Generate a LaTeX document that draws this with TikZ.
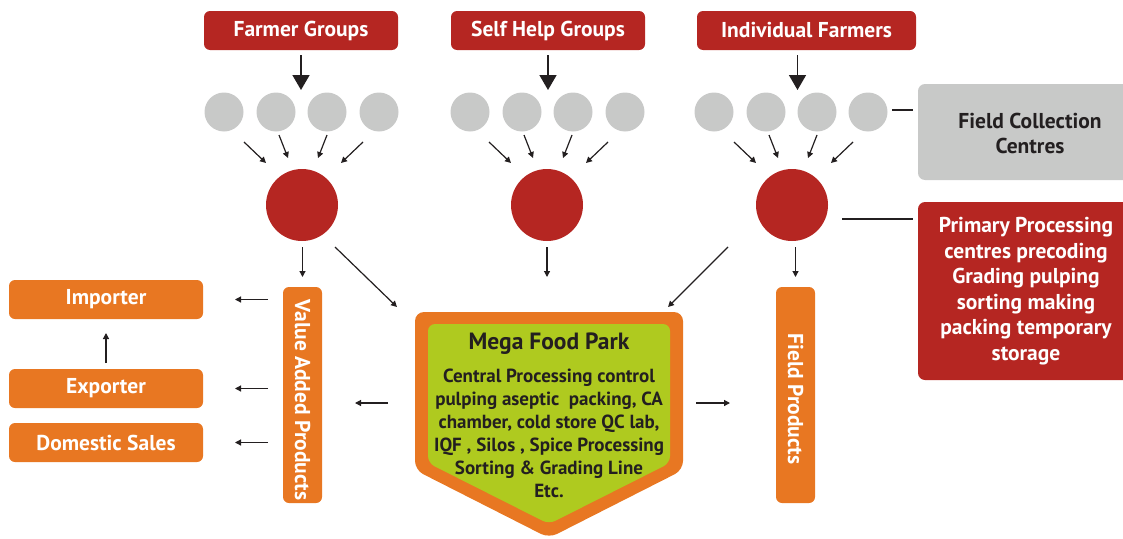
\documentclass[tikz,border=0pt]{standalone}
\usepackage{fontspec}
\setmainfont{PT Sans}
\usetikzlibrary{arrows.meta,calc}
\definecolor{cred}{HTML}{B52622}
\definecolor{corange}{HTML}{E87722}
\definecolor{cgray}{HTML}{C8C9C8}
\definecolor{cgreen}{HTML}{AFCA1F}
\definecolor{cdark}{HTML}{231F20}
\begin{document}
\begin{tikzpicture}[x=1pt,y=-1pt,
  every node/.style={inner sep=0pt, outer sep=0pt},
  boxfont/.style={font=\bfseries\fontsize{21.5}{24}\selectfont},
  redbox/.style={fill=cred, rounded corners=6pt, text=white, boxfont},
  orbox/.style={fill=corange, rounded corners=6pt, text=white, boxfont},
  gdot/.style={circle, fill=cgray, minimum size=39pt},
  rdot/.style={circle, fill=cred, minimum size=72pt},
  bigarr/.style={draw=cdark, line width=1.6pt, -{Triangle[length=15pt,width=17pt]}},
  arr/.style={draw=cdark, line width=1.2pt, -{Triangle[length=6pt,width=6pt]}},
  plainline/.style={draw=cdark, line width=1.1pt},
]
\useasboundingbox (0,0) rectangle (1123,538);

% top source boxes
\node[redbox, minimum width=194pt, minimum height=39pt] (fg) at (301,30.5) {Farmer Groups};
\node[redbox, minimum width=194pt, minimum height=39pt] (shg) at (548,30.5) {Self Help Groups};
\node[redbox, minimum width=219pt, minimum height=39pt] (ifa) at (806.5,30.5) {Individual Farmers};

% gray collection dots
\foreach \i/\x in {1/224,2/276,3/327,4/379} \node[gdot] (a\i) at (\x,112) {};
\foreach \i/\x in {1/470,2/522,3/573,4/625} \node[gdot] (b\i) at (\x,112) {};
\foreach \i/\x in {1/714,2/766,3/817,4/868} \node[gdot] (c\i) at (\x,112) {};

% red processing dots
\node[rdot] (r1) at (302,205) {};
\node[rdot] (r2) at (547,205) {};
\node[rdot] (r3) at (792,205) {};

% big arrows from source boxes
\draw[bigarr, shorten <=5pt, shorten >=2.5pt] (fg.south) -- (fg.south |- a2.north);
\draw[bigarr, shorten <=5pt, shorten >=2.5pt] (shg.south) -- (shg.south |- b2.north);
\draw[bigarr, shorten <=5pt, shorten >=2.5pt] (c3.west |- ifa.south) -- (c3.west |- c3.north);

% small arrows dots -> red circles
\foreach \r in {r1,r2,r3}{
  \draw[arr] ($(\r)+(-58,-63)$) -- ($(\r)+(-36,-42)$);
  \draw[arr] ($(\r)+(-23,-70)$) -- ($(\r)+(-14,-47)$);
  \draw[arr] ($(\r)+(25,-70)$) -- ($(\r)+(16,-47)$);
  \draw[arr] ($(\r)+(61,-63)$) -- ($(\r)+(39,-42)$);
}

% vertical product boxes
\node[orbox, minimum width=39pt, minimum height=216pt] (vap) at (302.5,395) {};
\node[rotate=-90, text=white, boxfont] (vaptext) at (302.5,400) {Value Added Products};
\node[orbox, minimum width=39pt, minimum height=216pt] (fp) at (795.5,395) {};
\node[rotate=-90, text=white, boxfont] (fptext) at (795.5,399) {Field Products};

% market boxes
\node[orbox, minimum width=194pt, minimum height=39pt] (imp) at (106,299.5) {Importer};
\node[orbox, minimum width=194pt, minimum height=39pt] (exp) at (106,388.5) {Exporter};
\node[orbox, minimum width=194pt, minimum height=39pt] (dom) at (106,442.5) {Domestic Sales};

% mega food park shape
\fill[corange, rounded corners=9pt] (549,312) -- (683,312) -- (683,470) -- (549,538) -- (415,470) -- (415,312) -- cycle;
\fill[cgreen, rounded corners=7pt] (549,324) -- (670,324) -- (670,463) -- (549,524) -- (428,463) -- (428,324) -- cycle;
\node[minimum width=268pt, minimum height=158pt] (mfp) at (549,391) {};
\node[text=cdark, font=\bfseries\fontsize{23.5}{26}\selectfont] (mfptitle) at (549,344) {Mega Food Park};
\node[text=cdark, align=center, font=\bfseries\fontsize{19}{23}\selectfont] (mfpbody) at (549,433)
  {Central Processing control\\ pulping aseptic\ \ packing, CA\\ chamber, cold store QC lab,\\ IQF , Silos , Spice Processing\\ Sorting \& Grading Line\\ Etc.};

% right side boxes
\fill[cgray, rounded corners=7pt] (918,84) rectangle (1140,180);
\node[minimum width=205pt, minimum height=96pt] (fcc) at (1020.5,132) {};
\node[text=cdark, align=center, font=\bfseries\fontsize{21.5}{25}\selectfont] (fcctext) at (1030,133) {Field Collection\\ Centres};
\fill[cred, rounded corners=7pt] (918,202) rectangle (1134,380);
\node[minimum width=205pt, minimum height=178pt] (ppc) at (1020.5,291) {};
\node[text=white, align=center, font=\bfseries\fontsize{21.5}{25.5}\selectfont] (ppctext) at (1026,291)
  {Primary Processing\\ centres precoding\\ Grading pulping\\ sorting making\\ packing temporary\\ storage};

% connectors
\coordinate (fccl) at (892,110);
\draw[plainline, shorten >=5pt] (fccl) -- (fccl -| fcc.west);
\coordinate (ppcl) at (842,219);
\draw[plainline, shorten >=5pt] (ppcl) -- (ppcl -| ppc.west);

\draw[arr, shorten <=6pt, shorten >=10pt] (r1.south -| vap.north) -- (vap.north);
\draw[arr, shorten <=6pt] (r2.south) -- ($(r2.south)+(0,36)$);
\draw[arr, shorten <=6pt, shorten >=10pt] (r3.south -| fp.north) -- (fp.north);
\draw[arr] ($(r1)+(33,42)$) -- ($(mfp.north west)+(-18,-5)$);
\draw[arr] ($(r3)+(-64,42)$) -- ($(mfp.north east)+(-15,-5)$);

\draw[arr, shorten <=15pt, shorten >=32pt] (vap.west |- imp) -- (imp.east);
\draw[arr, shorten <=15pt, shorten >=32pt] (vap.west |- exp) -- (exp.east);
\draw[arr, shorten <=15pt, shorten >=32pt] (vap.west |- dom) -- (dom.east);
\draw[arr, shorten <=6pt, shorten >=14pt] (exp.north) -- (imp.south);

\draw[arr, shorten <=27pt, shorten >=33pt] (mfp.west |- 0,403) -- (vap.east |- 0,403);
\draw[arr, shorten <=13pt, shorten >=46pt] (mfp.east |- 0,403) -- (fp.west |- 0,403);
\end{tikzpicture}
\end{document}
